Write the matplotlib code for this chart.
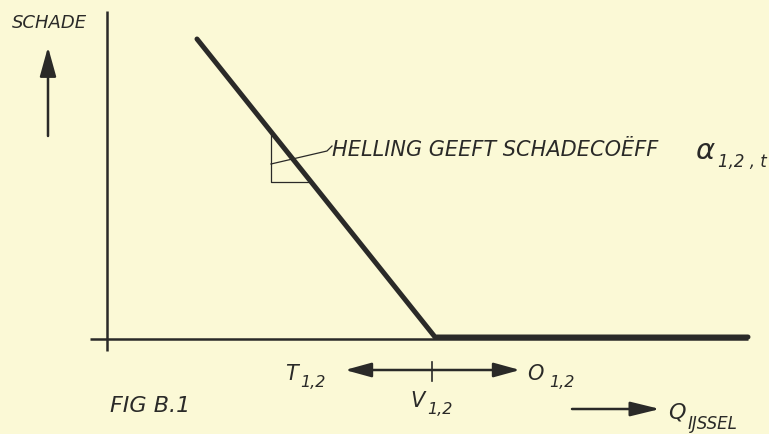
import numpy as np
import matplotlib
matplotlib.use("Agg")
import matplotlib.pyplot as plt
from matplotlib.patches import FancyArrowPatch

# ---- schematic data (Q = discharge, damage) ----
curve_q = [197, 435, 748]          # Q positions of the damage function
curve_damage = [298, 0, 0]         # damage values (hockey-stick)
q_axis = [90, 748]                 # extent of Q axis
damage_axis = [326, -14]           # extent of damage axis
q_v = 432                          # V_{1,2}
q_t = 345                          # arrow end toward T
q_o = 520                          # arrow end toward O
slope_leg_q = 271                  # where the slope triangle starts
slope_leg_bottom = 155             # damage level of triangle base

label_y = "SCHADE"
label_slope = "HELLING GEEFT SCHADECOËFF"
label_fig = "FIG B.1"

BG = "#fbf9d6"
INK = "#2a2a28"
FONT = "DejaVu Sans"

fig = plt.figure(figsize=(7.69, 4.35), dpi=100)
fig.patch.set_facecolor(BG)
ax = fig.add_axes([0, 0, 1, 1])
ax.set_facecolor(BG)
ax.set_xlim(0, 769)
ax.set_ylim(-97, 338)
ax.axis("off")

def py(p):  # pixel row -> damage units
    return 338 - p

# axes lines
ax.plot([107, 107], damage_axis, color=INK, lw=1.8, solid_capstyle="butt")
ax.plot(q_axis, [-2, -2], color=INK, lw=1.8, solid_capstyle="butt")

# damage curve
ax.plot(curve_q, curve_damage, color=INK, lw=3.6, solid_capstyle="round",
        solid_joinstyle="miter")

# slope triangle
slope = (curve_damage[1] - curve_damage[0]) / (curve_q[1] - curve_q[0])
top_d = curve_damage[0] + (slope_leg_q - curve_q[0]) * slope
base_q = curve_q[0] + (slope_leg_bottom - curve_damage[0]) / slope
ax.plot([slope_leg_q, slope_leg_q, base_q],
        [top_d, slope_leg_bottom, slope_leg_bottom], color=INK, lw=0.9)
# leader
ax.plot([slope_leg_q, 327, 332], [py(165), py(152), py(147)], color=INK, lw=0.9)

tkw = dict(color=INK, family=FONT, style="oblique")
ax.text(332, py(150), label_slope, fontsize=15, ha="left", va="center", **tkw)
ax.text(695, py(151), "α", fontsize=21, ha="left", va="center", **tkw)
ax.text(718, py(167), "1,2 , t", fontsize=12, ha="left", va="baseline", **tkw)

# y label and arrow
ax.text(49, py(23), label_y, fontsize=13, ha="center", va="center", **tkw)
ax.add_patch(FancyArrowPatch((48, py(137)), (48, py(48)),
             arrowstyle="-|>,head_length=0.9,head_width=0.25", mutation_scale=20,
             color=INK, lw=1.8, shrinkA=0, shrinkB=0))

# double arrow with V tick
ax.add_patch(FancyArrowPatch((q_t, py(371)), (q_o, py(371)),
             arrowstyle="<|-|>,head_length=0.8,head_width=0.22", mutation_scale=20,
             color=INK, lw=1.8, shrinkA=0, shrinkB=0))
ax.plot([q_v, q_v], [py(363), py(382)], color=INK, lw=1.2)

ax.text(285, py(380), "T", fontsize=15, ha="left", va="baseline", **tkw)
ax.text(300, py(387), "1,2", fontsize=11.5, ha="left", va="baseline", **tkw)
ax.text(527, py(380), "O", fontsize=15, ha="left", va="baseline", **tkw)
ax.text(549, py(387), "1,2", fontsize=11.5, ha="left", va="baseline", **tkw)
ax.text(410, py(407), "V", fontsize=15, ha="left", va="baseline", **tkw)
ax.text(427, py(414), "1,2", fontsize=11.5, ha="left", va="baseline", **tkw)

ax.text(110, py(412), label_fig, fontsize=16, ha="left", va="baseline", **tkw)

# Q arrow
ax.add_patch(FancyArrowPatch((572, py(410)), (660, py(410)),
             arrowstyle="-|>,head_length=0.9,head_width=0.22", mutation_scale=20,
             color=INK, lw=1.8, shrinkA=0, shrinkB=0))
ax.text(668, py(419), "Q", fontsize=16, ha="left", va="baseline", **tkw)
ax.text(688, py(429), "IJSSEL", fontsize=12, ha="left", va="baseline", **tkw)

fig.savefig("out.png", dpi=100, facecolor=BG)
